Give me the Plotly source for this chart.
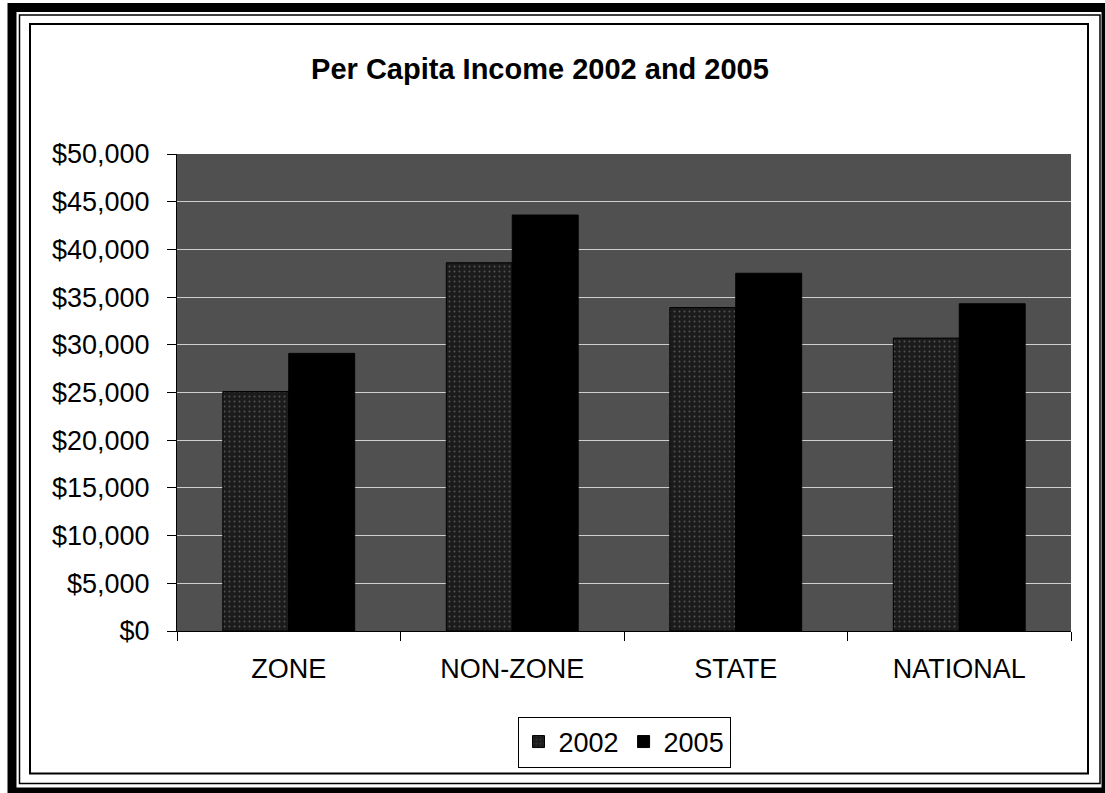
import plotly.graph_objects as go

# Per capita income by area
categories = ["ZONE", "NON-ZONE", "STATE", "NATIONAL"]
income_2002 = [25100, 38600, 33900, 30700]
income_2005 = [29100, 43600, 37500, 34300]
y_ticks = [0, 5000, 10000, 15000, 20000, 25000, 30000, 35000, 40000, 45000, 50000]
y_tick_text = [f"${v:,}" for v in y_ticks]

W, H = 1105, 793
ML, MR, MT, MB = 177, 34, 154, 162
PW, PH = W - ML - MR, H - MT - MB

FONT = "Liberation Sans, Arial, sans-serif"


def px_x(x):
    return (x - ML) / PW


def px_y(y):
    return (H - MB - y) / PH


fig = go.Figure()
fig.add_trace(go.Bar(
    name="2002", x=categories, y=income_2002,
    marker=dict(color="#1b1b1b", line=dict(color="#000000", width=1),
                pattern=dict(shape=".", fgcolor="#8a8a8a", bgcolor="#1b1b1b",
                             size=5, solidity=0.12)),
))
fig.add_trace(go.Bar(
    name="2005", x=categories, y=income_2005,
    marker=dict(color="#000000", line=dict(color="#000000", width=1)),
))

# frame: heavy outer edge, thin inner rule, chart-area border
frames = [
    dict(x0=12, y0=7.5, x1=1106, y1=792, w=9),
    dict(x0=19.5, y0=15, x1=1100, y1=783.5, w=1.5),
    dict(x0=30, y0=24, x1=1088, y1=773.5, w=2),
]
for f in frames:
    fig.add_shape(type="rect", xref="paper", yref="paper",
                  x0=px_x(f["x0"]), x1=px_x(f["x1"]),
                  y0=px_y(f["y1"]), y1=px_y(f["y0"]),
                  line=dict(color="#000000", width=f["w"]), layer="above")

fig.update_layout(
    width=W, height=H,
    margin=dict(l=ML, r=MR, t=MT, b=MB),
    paper_bgcolor="#ffffff",
    plot_bgcolor="#505050",
    barmode="group",
    bargap=0.41,
    bargroupgap=0,
    font=dict(family=FONT, color="#000000", size=27),
    title=dict(text="<b>Per Capita Income 2002 and 2005</b>",
               font=dict(family=FONT, size=29, color="#000000"),
               x=540 / W, xref="container", xanchor="center",
               y=1 - 69 / H, yref="container", yanchor="middle"),
    legend=dict(orientation="h", x=0.5, xanchor="center",
                y=px_y(742), yanchor="middle",
                bordercolor="#000000", borderwidth=1,
                bgcolor="#ffffff", font=dict(size=27),
                itemwidth=30, tracegroupgap=0),
    showlegend=True,
)
fig.update_xaxes(
    showline=True, linecolor="#000000", linewidth=1,
    ticks="outside", tickson="boundaries", ticklen=9, tickcolor="#000000",
    ticklabelstandoff=14, showgrid=False,
    tickfont=dict(size=27),
)
fig.update_yaxes(
    range=[0, 50000], tickmode="array", tickvals=y_ticks, ticktext=y_tick_text,
    showline=True, linecolor="#000000", linewidth=1,
    ticks="outside", ticklen=9, tickcolor="#000000",
    ticklabelstandoff=12,
    showgrid=True, gridcolor="#cfcfcf", gridwidth=1,
    zeroline=False, tickfont=dict(size=27),
)

fig.write_html("out.html")
